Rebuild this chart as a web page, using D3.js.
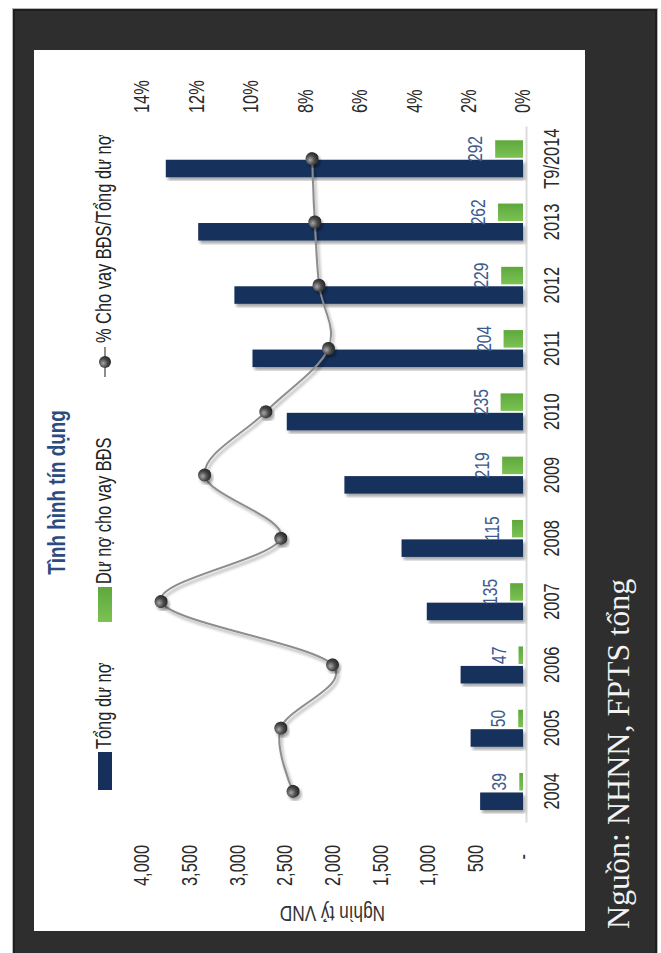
<!DOCTYPE html>
<html>
<head>
<meta charset="utf-8">
<script src="https://cdn.jsdelivr.net/npm/d3@7"></script>
<style>
  html, body { margin: 0; padding: 0; background: #fff; }
  svg text { font-family: "Liberation Sans", Arial, sans-serif; }
</style>
</head>
<body>
<div id="chart"></div>
<script>
// dữ liệu
const categories = ["2004", "2005", "2006", "2007", "2008", "2009", "2010", "2011", "2012", "2013", "T9/2014"];
const tongDuNo   = [450, 550, 655, 1010, 1275, 1875, 2480, 2840, 3030, 3410, 3750];
const duNoBDS    = [39, 50, 47, 135, 115, 219, 235, 204, 229, 262, 292];
const tyLeBDS    = [8.45, 8.9, 7.0, 13.3, 8.9, 11.7, 9.45, 7.15, 7.5, 7.65, 7.75];
const valueTicks = [0, 500, 1000, 1500, 2000, 2500, 3000, 3500, 4000];
const pctTicks   = [0, 2, 4, 6, 8, 10, 12, 14];
const seriesNames = ["Tổng dư nợ", "Dư nợ cho vay BĐS", "% Cho vay BĐS/Tổng dư nợ"];
const chartTitle = "Tình hình tín dụng";
const axisTitle  = "Nghìn tỷ VND";
const sourceText = "Nguồn: NHNN, FPTS tổng";

const W = 661, H = 953;
const navy = "#16305b", lineGray = "#8d8d8d";
const NARROW = "scale(0.82,1.08)"; // giả lập Arial Narrow

const svg = d3.select("#chart").append("svg")
    .attr("width", W)
    .attr("height", H);

const defs = svg.append("defs");
defs.append("filter").attr("id", "shadow").attr("x", "-20%").attr("y", "-20%")
    .attr("width", "140%").attr("height", "140%")
  .append("feDropShadow")
    .attr("dx", -3).attr("dy", 2).attr("stdDeviation", 1.6)
    .attr("flood-color", "#000").attr("flood-opacity", 0.35);

const gGreen = defs.append("linearGradient").attr("id", "gGreen")
    .attr("x1", 0).attr("y1", 0).attr("x2", 1).attr("y2", 0);
gGreen.append("stop").attr("offset", "0%").attr("stop-color", "#7cc255");
gGreen.append("stop").attr("offset", "100%").attr("stop-color", "#5ea83b");

const ball = defs.append("radialGradient").attr("id", "ball")
    .attr("cx", "40%").attr("cy", "35%").attr("r", "65%");
ball.append("stop").attr("offset", "0%").attr("stop-color", "#a8a8a8");
ball.append("stop").attr("offset", "55%").attr("stop-color", "#4a4a4a");
ball.append("stop").attr("offset", "100%").attr("stop-color", "#262626");

// khung tối bên ngoài
svg.append("rect")
    .attr("x", 12.5).attr("y", 8.5).attr("width", 645).attr("height", 950)
    .attr("fill", "#2e2e2e").attr("stroke", "#b5b5b5").attr("stroke-width", 1);
svg.append("rect")
    .attr("x", 14).attr("y", 10).attr("width", 642).attr("height", 950)
    .attr("fill", "none").attr("stroke", "#1f1f1f").attr("stroke-width", 2);

// vùng biểu đồ trắng (vẽ xoay -90 độ)
const panelW = 881, panelH = 551;
svg.append("rect")
    .attr("x", 34).attr("y", 50).attr("width", panelH).attr("height", panelW)
    .attr("fill", "#fff");

const g = svg.append("g")
    .attr("transform", `translate(34,931) rotate(-90)`);

const x0 = d3.scaleBand().domain(categories).range([108, 804]);
const x1 = d3.scaleBand().domain([0, 1]).range([13, 50]).paddingInner(0.1);
const y  = d3.scaleLinear().domain([0, 4000]).range([489, 108]);
const yp = d3.scaleLinear().domain([0, 14]).range([489, 108]);

// trục danh mục
const xAxis = g.append("g")
    .attr("transform", "translate(0,492)")
    .call(d3.axisBottom(x0).tickSize(0).tickSizeOuter(0).tickPadding(16));
xAxis.select(".domain").attr("stroke", "#dcdcdc").attr("stroke-width", 2);
xAxis.selectAll("text").attr("font-size", 20).attr("fill", "#2a2a2a").attr("transform", NARROW);

// trục trái
const yAxis = g.append("g")
    .attr("transform", "translate(86,0)")
    .call(d3.axisLeft(y).tickValues(valueTicks).tickSize(0).tickPadding(0)
      .tickFormat(d => d === 0 ? "-\u00a0\u00a0" : d3.format(",")(d)));
yAxis.select(".domain").remove();
yAxis.selectAll("text").attr("font-size", 20).attr("fill", "#2a2a2a").attr("transform", NARROW);

// trục phải
const ypAxis = g.append("g")
    .attr("transform", "translate(818,0)")
    .call(d3.axisRight(yp).tickValues(pctTicks).tickSize(0).tickPadding(0)
      .tickFormat(d => d + "%"));
ypAxis.select(".domain").remove();
ypAxis.selectAll("text").attr("font-size", 20).attr("fill", "#2a2a2a").attr("transform", NARROW);

// tên trục
g.append("text")
    .attr("transform", `translate(25,${(y(0) + y(4000)) / 2}) rotate(-90) ${NARROW}`)
    .attr("text-anchor", "middle")
    .attr("font-size", 21)
    .attr("fill", "#333")
    .text(axisTitle);

// cột
const bw = x1.bandwidth();
g.selectAll("rect.tong")
  .data(categories)
  .enter().append("rect")
    .attr("class", "tong")
    .attr("x", c => x0(c) + x1(0))
    .attr("y", (c, i) => y(tongDuNo[i]))
    .attr("width", bw)
    .attr("height", (c, i) => y(0) - y(tongDuNo[i]))
    .attr("fill", navy)
    .attr("filter", "url(#shadow)");

g.selectAll("rect.bds")
  .data(categories)
  .enter().append("rect")
    .attr("class", "bds")
    .attr("x", c => x0(c) + x1(1))
    .attr("y", (c, i) => y(duNoBDS[i]))
    .attr("width", bw)
    .attr("height", (c, i) => y(0) - y(duNoBDS[i]))
    .attr("fill", "url(#gGreen)");

g.selectAll("text.lbl")
  .data(categories)
  .enter().append("text")
    .attr("class", "lbl")
    .attr("transform", (c, i) =>
      `translate(${x0(c) + x1(1) + bw / 2},${y(duNoBDS[i]) - 20}) ${NARROW}`)
    .attr("dy", "0.35em")
    .attr("text-anchor", "middle")
    .attr("font-size", 19)
    .attr("fill", "#3d5b8e")
    .text((c, i) => duNoBDS[i]);

// đường tỷ lệ
const line = d3.line()
    .x(d => x0(d.c) + x0.bandwidth() / 2)
    .y(d => yp(d.v))
    .curve(d3.curveCardinal.tension(0));
const pts = categories.map((c, i) => ({ c: c, v: tyLeBDS[i] }));

g.append("path")
    .datum(pts)
    .attr("d", line)
    .attr("fill", "none")
    .attr("stroke", lineGray)
    .attr("stroke-width", 2)
    .attr("filter", "url(#shadow)");

g.selectAll("circle.pt")
  .data(pts)
  .enter().append("circle")
    .attr("class", "pt")
    .attr("cx", d => x0(d.c) + x0.bandwidth() / 2)
    .attr("cy", d => yp(d.v))
    .attr("r", 6.5)
    .attr("fill", "url(#ball)")
    .attr("filter", "url(#shadow)");

// tiêu đề
g.append("text")
    .attr("transform", `translate(${panelW / 2 - 2},31) ${NARROW}`)
    .attr("text-anchor", "middle")
    .attr("font-size", 23)
    .attr("font-weight", "bold")
    .attr("fill", "#2c4c80")
    .text(chartTitle);

// chú thích
const lg = g.append("g");
function legendText(x, s) {
  lg.append("text")
      .attr("transform", `translate(${x},77) ${NARROW}`)
      .attr("font-size", 20)
      .attr("fill", "#222")
      .text(s);
}
lg.append("rect").attr("x", 141).attr("y", 64).attr("width", 38).attr("height", 14).attr("fill", navy);
legendText(182, seriesNames[0]);
lg.append("rect").attr("x", 309).attr("y", 64).attr("width", 35).attr("height", 14).attr("fill", "url(#gGreen)");
legendText(347, seriesNames[1]);
lg.append("line").attr("x1", 554).attr("x2", 584).attr("y1", 71).attr("y2", 71)
    .attr("stroke", lineGray).attr("stroke-width", 2);
lg.append("circle").attr("cx", 569).attr("cy", 71).attr("r", 6).attr("fill", "url(#ball)");
legendText(588, seriesNames[2]);

// nguồn
svg.append("text")
    .attr("transform", "translate(629,929) rotate(-90)")
    .style("font-family", "'Liberation Serif', 'DejaVu Serif', serif")
    .attr("font-size", 32)
    .attr("fill", "#f2f2f2")
    .text(sourceText);
</script>
</body>
</html>
